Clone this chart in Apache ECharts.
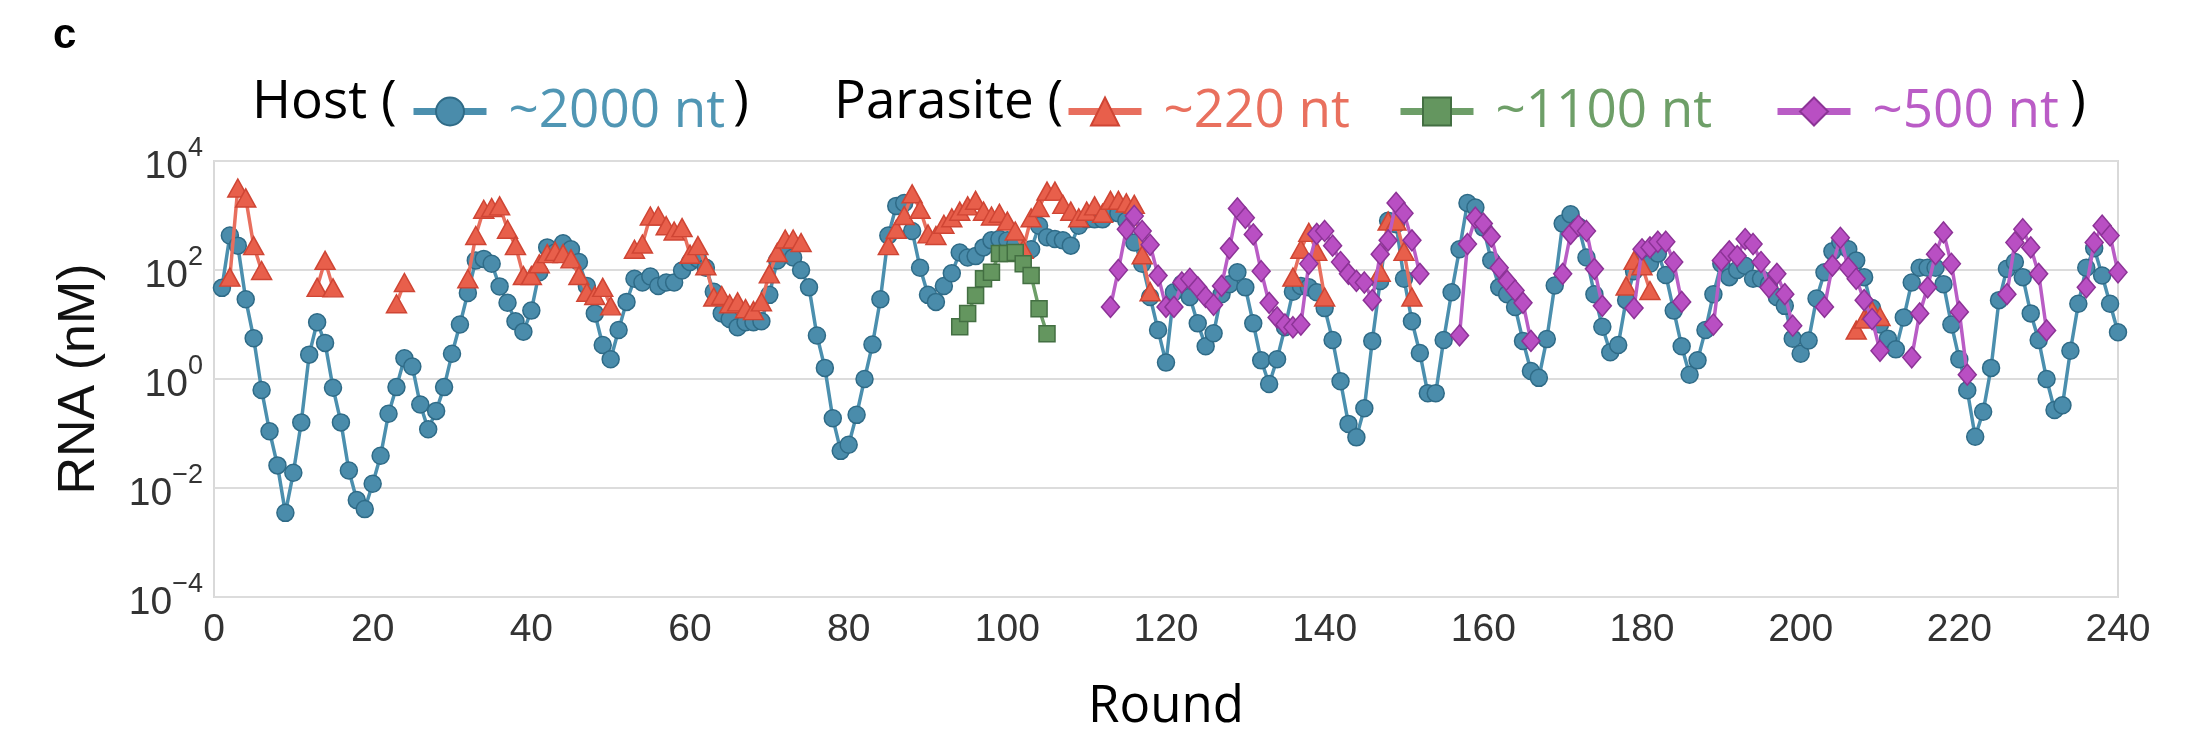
<!DOCTYPE html>
<html>
<head>
<meta charset="utf-8">
<script src="https://cdn.jsdelivr.net/npm/echarts@6/dist/echarts.min.js"></script>
<style>
  html, body { margin: 0; padding: 0; background: #ffffff; }
  #chart { width: 2199px; height: 741px; }
</style>
</head>
<body>
<div id="chart"></div>
<script>
// Host RNA concentration (nM), one value per round, rounds 1..240
const hostValues = [
  47, 430, 280, 29, 5.6, 0.63, 0.11, 0.026, 0.0035, 0.019,
  0.16, 2.8, 11, 4.6, 0.69, 0.16, 0.021, 0.006, 0.0041, 0.012,
  0.039, 0.23, 0.71, 2.4, 1.7, 0.34, 0.12, 0.26, 0.71, 2.9,
  10, 38, 150, 160, 130, 50, 25, 11.5, 7.4, 18,
  91, 260, 210, 310, 240, 140, 51, 16, 4.2, 2.3,
  7.9, 26, 69, 59, 76, 51, 59, 59, 98, 140,
  160, 110, 40, 16, 12.6, 8.9, 11, 11, 11.5, 35,
  150, 230, 170, 100, 48, 6.3, 1.6, 0.19, 0.048, 0.062,
  0.22, 1.0, 4.3, 29, 430, 1500, 1700, 520, 110, 35,
  26, 51, 87, 210, 170, 180, 260, 350, 370, 350,
  300, 220, 240, 650, 400, 370, 350, 280, 650, 850,
  850, 850, 1100, 1100, 800, 320, 130, 32, 7.9, 2.0,
  39, 56, 32, 10.5, 4.0, 6.9, 36, 55, 91, 48,
  10.5, 2.2, 0.81, 2.3, 8.9, 40, 51, 48, 39, 20,
  5.2, 0.91, 0.15, 0.085, 0.29, 5.0, 63, 800, 690, 69,
  11.5, 3.0, 0.55, 0.55, 5.2, 39, 240, 1700, 1400, 600,
  150, 48, 36, 21, 5.0, 1.4, 1.05, 5.4, 52, 710,
  1050, 630, 170, 36, 9.1, 3.1, 4.2, 28, 95, 150,
  130, 200, 81, 18, 4.0, 1.2, 2.2, 7.9, 36, 130,
  74, 100, 120, 69, 69, 55, 32, 22, 5.5, 2.9,
  5.1, 30, 91, 220, 330, 240, 150, 74, 20, 10,
  5.5, 3.5, 13.5, 59, 110, 110, 110, 55, 10, 2.3,
  0.62, 0.087, 0.25, 1.6, 28, 105, 140, 74, 16, 5.2,
  1.0, 0.27, 0.33, 3.3, 24, 110, 250, 79, 24, 7.2
];

// Parasite runs: [first round, values for consecutive rounds]
const parasite220Runs = [
  [2, [74, 3200, 2100, 280, 98]],
  [13, [48, 150, 47]],
  [23, [24, 59]],
  [32, [69, 430, 1300, 1400, 1500, 560, 280, 79, 79, 130, 200, 220, 200, 160, 79, 39, 34, 48, 22]],
  [53, [240, 300, 980, 980, 650, 520, 600, 195, 280, 120, 32, 34, 24, 26, 19.5, 18, 26, 85, 210, 370, 370, 320]],
  [85, [280, 560, 1000, 2500, 1300, 460, 430, 690, 910, 1200, 1500, 1900, 1200, 980, 1100, 790, 520, 240,
        910, 1400, 2800, 2800, 1600, 1200, 910, 1200, 1500, 1100, 1900, 1900, 1700, 1600, 190, 40]],
  [136, [74, 240, 490, 220, 32]],
  [147, [91, 790, 790, 220, 32]],
  [178, [51, 150, 120, 42]],
  [207, [7.9, 12.6, 18, 14]]
];

const parasite1100Runs = [
  [94, [9.1, 16, 34, 69, 91, 200, 200, 210, 130, 79, 19.5, 6.8]]
];

const parasite500Runs = [
  [113, [21, 100, 560, 980, 520, 290, 79, 21, 21, 59, 69, 48, 32, 23, 51, 250, 1350, 910, 450, 95,
         25, 13.5, 10, 8.9, 10, 130, 460, 520, 280, 140, 85, 63, 59, 28, 195, 350, 1700, 1100, 350, 85]],
  [157, [6.3, 300, 910, 710, 410, 110, 63, 42, 25, 5.0]],
  [170, [85, 460, 650, 520, 105, 22]],
  [179, [20, 240, 260, 330, 330, 140, 26]],
  [189, [10, 150, 220, 180, 370, 300, 140, 48, 85, 36, 9.5]],
  [203, [21, 120, 390, 110, 69, 28, 12.6, 3.3]],
  [214, [2.5, 16, 48, 195, 490, 130, 17, 1.2]],
  [226, [36, 320, 560, 260, 85, 7.8]],
  [236, [48, 320, 650, 430, 91]]
];

const xTicks = { min: 0, max: 240, step: 20 };
const yDecades = { min: 1e-4, max: 1e4 };

// turn runs into [round, value] pairs, with an empty point between runs so the line breaks
function runsToData(runs) {
  const out = [];
  runs.forEach(([start, vals], i) => {
    if (i > 0) out.push([start - 1, '-']);
    vals.forEach((v, j) => out.push([start + j, v]));
  });
  return out;
}

const hostData = hostValues.map((v, i) => [i + 1, v]);

const COLORS = {
  host:  { fill: '#4a8cab', border: '#2f6b87', line: '#4b8fae', text: '#5096b4' },
  p220:  { fill: '#e85f4b', border: '#cf4534', line: '#e86f5e', text: '#e9705e' },
  p1100: { fill: '#64965f', border: '#436f42', line: '#6d9e68', text: '#6e9f68' },
  p500:  { fill: '#b94fc3', border: '#8c3396', line: '#b95cc5', text: '#ba5cc6' }
};

const LEGEND_FONT = '"Open Sans", "Noto Sans", sans-serif';
const TICK_FONT = '"Liberation Sans", Arial, sans-serif';

function legendAt(name, left, color) {
  return {
    data: [{ name: name, textStyle: { color: color } }],
    left: left,
    top: 85,
    orient: 'horizontal',
    itemWidth: 73,
    itemHeight: 35,
    itemGap: 0,
    padding: 0,
    selectedMode: false,
    lineStyle: { width: 7 },
    textStyle: {
      fontFamily: LEGEND_FONT,
      fontSize: 53,
      color: color,
      padding: [0, 0, 0, 17]
    }
  };
}

function lineSeries(name, data, symbol, size, c, z) {
  return {
    name: name,
    type: 'line',
    data: data,
    symbol: symbol,
    symbolSize: size,
    showAllSymbol: true,
    connectNulls: false,
    z: z,
    lineStyle: { color: c.line, width: 3.5 },
    itemStyle: { color: c.fill, borderColor: c.border, borderWidth: 1.5 },
    emphasis: { disabled: true }
  };
}

const chart = echarts.init(document.getElementById('chart'), null, { renderer: 'canvas' });

const option = {
  backgroundColor: '#ffffff',
  animation: false,
  grid: {
    left: 214,
    right: 81,
    top: 161,
    bottom: 144,
    containLabel: false,
    outerBoundsMode: 'none',
    show: true,
    borderColor: '#d9d9d9',
    borderWidth: 2,
    backgroundColor: '#ffffff'
  },
  legend: [
    legendAt('~2000 nt', 410, COLORS.host.text),
    legendAt('~220 nt', 1065, COLORS.p220.text),
    legendAt('~1100 nt', 1397, COLORS.p1100.text),
    legendAt('~500 nt', 1774, COLORS.p500.text)
  ],
  graphic: [
    { type: 'text', x: 53, y: 36, style: { text: 'c', font: 'bold 42px "Liberation Sans", Arial, sans-serif', fill: '#000', verticalAlign: 'middle' } },
    { type: 'text', x: 252, y: 103, style: { text: 'Host (', font: '53px ' + LEGEND_FONT, fill: '#000', verticalAlign: 'middle' } },
    { type: 'text', x: 749, y: 103, style: { text: ')', font: '53px ' + LEGEND_FONT, fill: '#000', align: 'right', verticalAlign: 'middle' } },
    { type: 'text', x: 834, y: 103, style: { text: 'Parasite (', font: '53px ' + LEGEND_FONT, fill: '#000', verticalAlign: 'middle' } },
    { type: 'text', x: 2086, y: 103, style: { text: ')', font: '53px ' + LEGEND_FONT, fill: '#000', align: 'right', verticalAlign: 'middle' } }
  ],
  xAxis: {
    type: 'value',
    min: xTicks.min,
    max: xTicks.max,
    interval: xTicks.step,
    name: 'Round',
    nameLocation: 'middle',
    nameGap: 85,
    nameTextStyle: { fontFamily: LEGEND_FONT, fontSize: 51, color: '#000' },
    axisLine: { show: false },
    axisTick: { show: false },
    splitLine: { show: false },
    axisLabel: { fontFamily: TICK_FONT, fontSize: 39, color: '#333', margin: 14 }
  },
  yAxis: {
    type: 'log',
    logBase: 10,
    min: yDecades.min,
    max: yDecades.max,
    interval: 2,
    name: 'RNA (nM)',
    nameLocation: 'middle',
    nameGap: 108,
    nameTextStyle: { fontFamily: TICK_FONT, fontSize: 52, color: '#111' },
    axisLine: { show: false },
    axisTick: { show: false },
    splitLine: { show: true, lineStyle: { color: '#dcdcdc', width: 2 } },
    axisLabel: {
      margin: 11,
      formatter: function (v) {
        const e = Math.round(Math.log10(v));
        if (e % 2 !== 0) return '';
        return '{b|10}{s|' + (e < 0 ? '\u2212' : '') + Math.abs(e) + '}';
      },
      rich: {
        b: { fontFamily: TICK_FONT, fontSize: 39, color: '#333', verticalAlign: 'bottom' },
        s: { fontFamily: TICK_FONT, fontSize: 27, color: '#333', verticalAlign: 'bottom', padding: [0, 0, 25, 0] }
      }
    }
  },
  series: [
    lineSeries('~2000 nt', hostData, 'circle', 17, COLORS.host, 2),
    lineSeries('~220 nt', runsToData(parasite220Runs), 'triangle', [20, 18], COLORS.p220, 3),
    lineSeries('~1100 nt', runsToData(parasite1100Runs), 'rect', 16, COLORS.p1100, 4),
    lineSeries('~500 nt', runsToData(parasite500Runs), 'diamond', [18, 21], COLORS.p500, 5)
  ]
};

chart.setOption(option);
</script>
</body>
</html>
